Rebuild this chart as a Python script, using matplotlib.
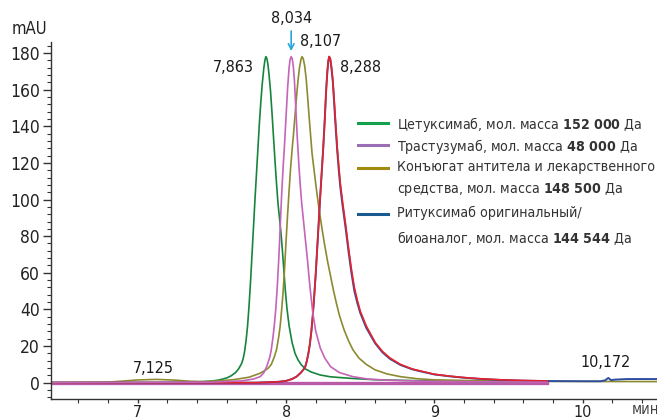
import matplotlib
matplotlib.use("Agg")
import matplotlib.pyplot as plt
from matplotlib.ticker import MultipleLocator
from matplotlib.lines import Line2D

FONT = "DejaVu Sans"
plt.rcParams['font.family'] = [FONT]
plt.rcParams['font.stretch'] = "condensed"
plt.rcParams['mathtext.fontset'] = 'custom'
plt.rcParams['mathtext.rm'] = FONT + ':stretch=condensed'
plt.rcParams['mathtext.bf'] = FONT + ':bold:stretch=condensed'

# ---- data (time, min ; signal, mAU) ----
green_x = [6.40, 7.20, 7.40, 7.50, 7.55, 7.60, 7.63, 7.66, 7.68, 7.70, 7.71, 7.72, 7.73, 7.74, 7.75,
           7.76, 7.77, 7.78, 7.79, 7.80, 7.81, 7.82, 7.83, 7.84, 7.85, 7.857, 7.863, 7.87, 7.877, 7.885,
           7.895, 7.905, 7.915, 7.925, 7.935, 7.945, 7.955, 7.965, 7.975, 7.985, 7.995, 8.005, 8.02,
           8.04, 8.06, 8.08, 8.10, 8.13, 8.17, 8.23, 8.30, 8.43, 8.60, 9.00, 9.50, 9.76]
green_y = [0.0, 0.1, 0.4, 0.9, 1.5, 2.6, 3.8, 5.6, 7.6, 10.5, 13.0, 17.0, 23.0, 31.0, 42.0,
           55.0, 70.0, 85.0, 100.0, 114.0, 128.0, 142.0, 154.0, 164.0, 172.0, 176.0, 178.0, 177.0, 174.0, 168.0,
           159.0, 147.0, 134.0, 121.0, 109.0, 98.0, 90.0, 82.0, 72.0, 61.0, 50.0, 41.0, 31.0,
           22.0, 16.0, 12.5, 10.0, 7.5, 5.8, 4.2, 3.2, 2.4, 1.6, 0.9, 0.5, 0.3]

pink_x = [6.40, 7.50, 7.70, 7.78, 7.825, 7.85, 7.87, 7.89, 7.90, 7.91, 7.92, 7.93, 7.94, 7.95, 7.96,
          7.97, 7.98, 7.99, 8.00, 8.01, 8.02, 8.027, 8.034, 8.041, 8.048, 8.056, 8.065, 8.075, 8.085,
          8.095, 8.105, 8.115, 8.125, 8.135, 8.145, 8.155, 8.165, 8.18, 8.20, 8.23, 8.26, 8.30, 8.36,
          8.45, 8.55, 8.70, 9.00, 9.50, 9.76]
pink_y = [0.0, 0.3, 1.0, 2.0, 3.3, 5.5, 9.0, 14.0, 18.0, 24.0, 31.0, 40.0, 52.0, 67.0, 85.0,
          103.0, 118.0, 131.0, 146.0, 161.0, 172.0, 176.5, 178.0, 177.0, 173.0, 165.0, 150.0, 134.0, 120.0,
          108.0, 98.0, 90.0, 82.0, 74.0, 66.0, 57.0, 49.0, 38.0, 28.0, 19.0, 13.5, 8.7, 5.5,
          3.3, 2.0, 1.3, 0.7, 0.4, 0.2]

olive_x = [6.40, 6.80, 6.90, 7.00, 7.125, 7.25, 7.35, 7.45, 7.55, 7.65, 7.75, 7.82, 7.86, 7.88, 7.90,
           7.92, 7.935, 7.95, 7.96, 7.97, 7.98, 7.99, 8.00, 8.01, 8.02, 8.03, 8.04, 8.05, 8.06, 8.07,
           8.08, 8.09, 8.10, 8.107, 8.115, 8.125, 8.135, 8.145, 8.155, 8.165, 8.175, 8.19, 8.205, 8.22,
           8.24, 8.26, 8.28, 8.30, 8.32, 8.34, 8.36, 8.39, 8.42, 8.45, 8.49, 8.54, 8.60, 8.68, 8.77,
           8.88, 8.99, 9.20, 9.50, 9.80, 10.50]
olive_y = [0.1, 0.3, 0.9, 1.5, 1.8, 1.4, 0.8, 0.6, 1.0, 1.7, 3.0, 5.0, 6.8, 8.0, 10.0,
           14.0, 18.0, 25.0, 31.0, 40.0, 50.0, 63.0, 78.0, 92.0, 105.0, 117.0, 127.0, 136.0, 146.0, 156.0,
           165.0, 172.0, 176.5, 178.0, 177.0, 173.0, 166.0, 156.0, 145.0, 135.0, 125.0, 115.0, 105.0, 96.0,
           85.0, 75.0, 66.0, 58.0, 50.0, 43.0, 36.5, 29.0, 23.0, 18.0, 13.5, 10.0, 7.0, 4.8, 3.3,
           2.2, 1.6, 1.2, 0.9, 0.7, 0.6]

red_x = [6.40, 7.80, 7.95, 8.00, 8.04, 8.07, 8.10, 8.12, 8.13, 8.14, 8.15, 8.16, 8.17, 8.18, 8.19,
         8.20, 8.21, 8.22, 8.23, 8.24, 8.25, 8.26, 8.27, 8.278, 8.284, 8.29, 8.297, 8.305, 8.315, 8.325,
         8.335, 8.345, 8.355, 8.365, 8.38, 8.40, 8.42, 8.44, 8.46, 8.48, 8.50, 8.54, 8.60, 8.65, 8.70,
         8.77, 8.85, 8.90, 9.00, 9.10, 9.20, 9.30, 9.44, 9.60, 9.76]
red_y = [0.0, 0.0, 0.5, 1.0, 2.0, 3.3, 5.5, 7.5, 9.0, 12.0, 16.0, 21.0, 28.0, 37.0, 48.0,
         60.0, 74.0, 88.0, 102.0, 115.0, 128.0, 143.0, 160.0, 170.0, 175.5, 178.0, 177.0, 173.0, 165.0, 153.0,
         140.0, 128.0, 118.0, 109.0, 99.0, 87.0, 74.0, 62.0, 52.0, 45.0, 39.0, 31.0, 22.0, 17.0, 13.5,
         10.0, 7.5, 6.5, 4.6, 3.6, 2.8, 2.2, 1.6, 1.2, 0.9]

blue_x = [6.40, 7.80, 7.95, 8.00, 8.04, 8.07, 8.10, 8.12, 8.13, 8.14, 8.15, 8.16, 8.17, 8.18, 8.19,
          8.20, 8.21, 8.22, 8.23, 8.24, 8.25, 8.26, 8.27, 8.278, 8.284, 8.29, 8.297, 8.305, 8.315, 8.325,
          8.335, 8.345, 8.355, 8.365, 8.38, 8.40, 8.42, 8.44, 8.46, 8.48, 8.50, 8.54, 8.60, 8.65, 8.70,
          8.77, 8.85, 8.90, 9.00, 9.10, 9.20, 9.30, 9.44, 9.60, 9.76, 10.00, 10.12, 10.15, 10.172, 10.19,
          10.22, 10.30, 10.50]
blue_y = [0.0, 0.0, 0.5, 1.0, 2.0, 3.3, 5.5, 7.5, 9.0, 12.0, 16.0, 21.0, 28.0, 37.0, 48.0,
          60.0, 74.0, 88.0, 102.0, 115.0, 128.0, 143.0, 160.0, 170.0, 175.5, 178.0, 177.0, 172.0, 164.0, 151.0,
          138.0, 126.0, 116.0, 107.0, 97.0, 85.0, 72.0, 60.0, 50.0, 43.5, 38.0, 30.0, 21.5, 16.5, 13.0,
          9.7, 7.3, 6.3, 4.5, 3.5, 2.7, 2.1, 1.5, 1.1, 0.9, 0.8, 0.8, 1.3, 2.6, 1.4,
          1.7, 2.0, 2.0]

peak_labels = ["7,125", "7,863", "8,034", "8,107", "8,288", "10,172"]
peak_label_x = [7.105, 7.78, 8.034, 8.095, 8.36, 10.15]
peak_label_y = [8.0, 172.0, 199.0, 186.5, 172.0, 11.0]
peak_label_ha = ["center", "right", "center", "left", "left", "center"]

legend_labels = [
    "Цетуксимаб, мол. масса $\\mathbf{152\\ 000}$ Да",
    "Трастузумаб, мол. масса $\\mathbf{48\\ 000}$ Да",
    "Конъюгат антитела и лекарственного\nсредства, мол. масса $\\mathbf{148\\ 500}$ Да",
    "Ритуксимаб оригинальный/\nбиоаналог, мол. масса $\\mathbf{144\\ 544}$ Да",
]
legend_colors = ["#12a14a", "#9a6fb5", "#a08a10", "#1b5a8e"]

# ---- figure ----
fig = plt.figure(figsize=(6.57, 4.18), dpi=100)
ax = fig.add_axes([51/657, 19/418, 606/657, 357/418])

ax.plot(green_x, green_y, color="#16853c", lw=1.2)
ax.plot(olive_x, olive_y, color="#8c8a30", lw=1.2)
ax.plot(blue_x, blue_y, color="#2f4f9e", lw=1.4)
ax.plot(red_x, red_y, color="#e8212b", lw=1.2)
ax.plot(pink_x, pink_y, color="#c564b8", lw=1.2)
ax.axhline(0, xmax=(9.76-6.415)/(10.5-6.415), color="#b85aa8", lw=2.4, zorder=1.5)

ax.set_xlim(6.415, 10.5)
ax.set_ylim(-8.9, 186)

for s in ("top", "right"):
    ax.spines[s].set_visible(False)
for s in ("left", "bottom"):
    ax.spines[s].set_color("#333333")
    ax.spines[s].set_linewidth(1.0)

ax.xaxis.set_major_locator(MultipleLocator(1))
ax.xaxis.set_minor_locator(MultipleLocator(0.2))
ax.yaxis.set_major_locator(MultipleLocator(20))
ax.yaxis.set_minor_locator(MultipleLocator(4))
ax.tick_params(axis="y", which="major", direction="out", length=6, width=1, colors="#333333",
               labelsize=12.5, labelcolor="#222222", pad=2)
ax.tick_params(axis="y", which="minor", direction="out", length=3, width=0.8, colors="#333333")
ax.tick_params(axis="x", which="major", direction="out", length=3, width=1, colors="#333333",
               labelsize=11.5, labelcolor="#222222", pad=1)
ax.tick_params(axis="x", which="minor", direction="out", length=3, width=0.8, colors="#333333")
ax.set_yticks([0, 20, 40, 60, 80, 100, 120, 140, 160, 180])

fig.text(12/657, 1 - 29/418, "mAU", fontsize=12, color="#222222", va="center", ha="left")
fig.text(632/657, 1 - 409/418, "мин", fontsize=10.5, color="#444444", va="center", ha="left")

for lab, x, y, ha in zip(peak_labels, peak_label_x, peak_label_y, peak_label_ha):
    ax.text(x, y, lab, fontsize=11.5, color="#1a1a1a", ha=ha, va="center")
ax.annotate("", xy=(8.034, 181), xytext=(8.034, 192),
            arrowprops=dict(arrowstyle="->", color="#29a6df", lw=1.2, shrinkA=0, shrinkB=0))

# manual legend
row_y = [123, 145, 168, 214]
for lab, col, yy in zip(legend_labels, legend_colors, row_y):
    fy = 1 - yy/418
    fig.add_artist(Line2D([358/657, 388/657], [fy, fy], color=col, lw=2.2))
    fig.text(397/657, fy + 8/418, lab, fontsize=10.2, color="#333333", ha="left", va="top",
             linespacing=1.62)

fig.savefig("out.png", dpi=100)
